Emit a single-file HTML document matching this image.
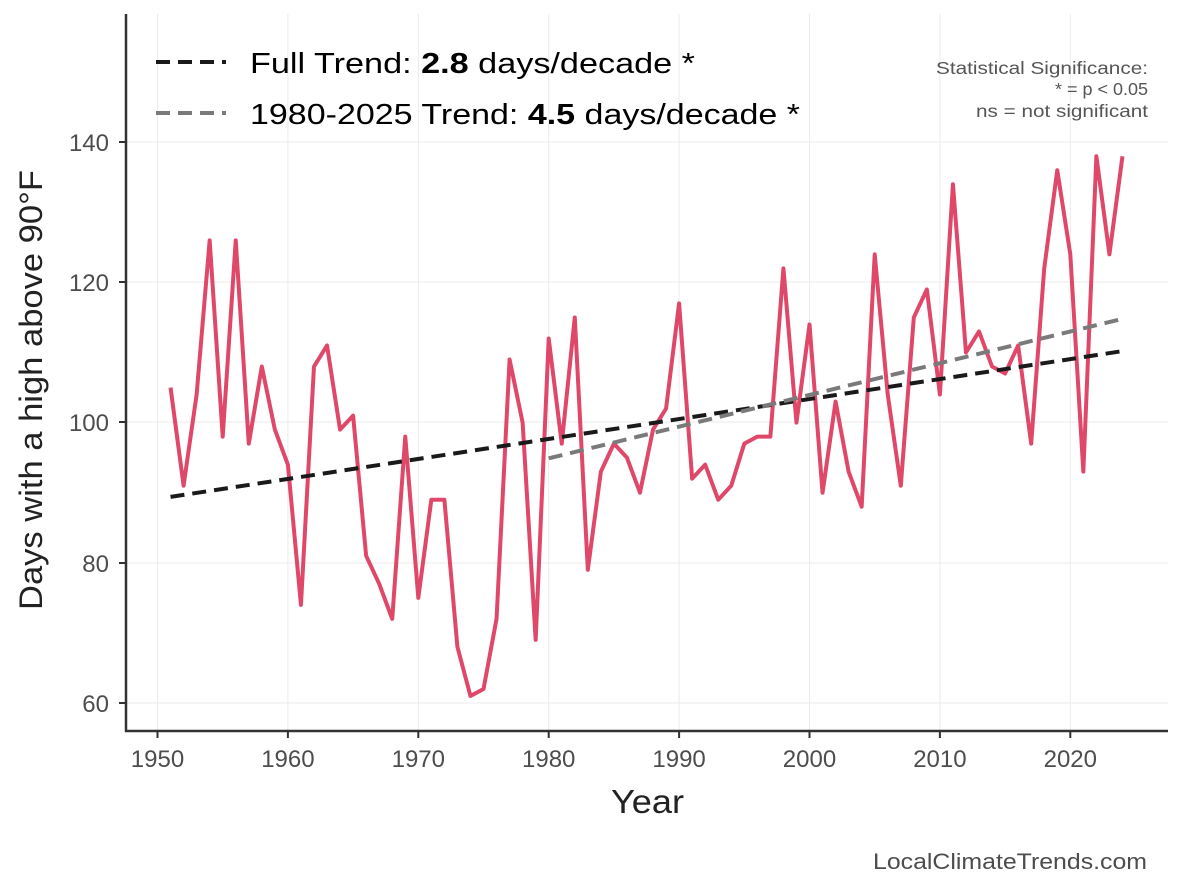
<!DOCTYPE html>
<html><head><meta charset="utf-8"><style>
html,body{margin:0;padding:0;background:#fff;}
svg{display:block;font-family:"Liberation Sans",Arial,sans-serif;}
</style></head><body>
<svg width="1184" height="889" viewBox="0 0 1184 889" xmlns="http://www.w3.org/2000/svg">
<rect width="1184" height="889" fill="#fff"/>
<g stroke="#ebebeb" stroke-width="1">
<line x1="126" x2="1168" y1="142" y2="142"/><line x1="126" x2="1168" y1="282" y2="282"/>
<line x1="126" x2="1168" y1="422" y2="422"/><line x1="126" x2="1168" y1="563" y2="563"/>
<line x1="126" x2="1168" y1="703" y2="703"/>
<line x1="157.5" x2="157.5" y1="14" y2="731"/><line x1="287.9" x2="287.9" y1="14" y2="731"/>
<line x1="418.3" x2="418.3" y1="14" y2="731"/><line x1="548.7" x2="548.7" y1="14" y2="731"/>
<line x1="679.1" x2="679.1" y1="14" y2="731"/><line x1="809.5" x2="809.5" y1="14" y2="731"/>
<line x1="939.9" x2="939.9" y1="14" y2="731"/><line x1="1070.3" x2="1070.3" y1="14" y2="731"/>
</g>
<g transform="matrix(13.04,0,0,-7.01,157.5,1123.6)">
<polyline fill="none" stroke="#e0486a" stroke-width="4" stroke-linejoin="round" vector-effect="non-scaling-stroke" points="1,105 2,91 3,104 4,126 5,98 6,126 7,97 8,108 9,99 10,94 11,74 12,108 13,111 14,99 15,101 16,81 17,77 18,72 19,98 20,75 21,89 22,89 23,68 24,61 25,62 26,72 27,109 28,100 29,69 30,112 31,97 32,115 33,79 34,93 35,97 36,95 37,90 38,99 39,102 40,117 41,92 42,94 43,89 44,91 45,97 46,98 47,98 48,122 49,100 50,114 51,90 52,103 53,93 54,88 55,124 56,104 57,91 58,115 59,119 60,104 61,134 62,110 63,113 64,108 65,107 66,111 67,97 68,122 69,136 70,124 71,93 72,138 73,124 74,138"/>
<line x1="1" y1="89.4" x2="74" y2="110.2" stroke="#1a1a1a" stroke-width="4" stroke-dasharray="14 8" vector-effect="non-scaling-stroke"/>
<line x1="30" y1="94.9" x2="74" y2="114.8" stroke="#7a7a7a" stroke-width="4" stroke-dasharray="14 8" vector-effect="non-scaling-stroke"/>
</g>
<g stroke="#333" stroke-width="2.5" fill="none">
<line x1="126" y1="14" x2="126" y2="732"/><line x1="125" y1="731" x2="1168" y2="731"/>
</g>
<g stroke="#333" stroke-width="2">
<line x1="119" x2="126" y1="142" y2="142"/><line x1="119" x2="126" y1="282" y2="282"/><line x1="119" x2="126" y1="422" y2="422"/><line x1="119" x2="126" y1="563" y2="563"/><line x1="119" x2="126" y1="703" y2="703"/>
<line x1="157.5" x2="157.5" y1="731" y2="738"/><line x1="287.9" x2="287.9" y1="731" y2="738"/><line x1="418.3" x2="418.3" y1="731" y2="738"/><line x1="548.7" x2="548.7" y1="731" y2="738"/><line x1="679.1" x2="679.1" y1="731" y2="738"/><line x1="809.5" x2="809.5" y1="731" y2="738"/><line x1="939.9" x2="939.9" y1="731" y2="738"/><line x1="1070.3" x2="1070.3" y1="731" y2="738"/>
</g>
<g fill="#4d4d4d" font-size="24" text-anchor="end">
<text x="109" y="151">140</text><text x="109" y="291">120</text><text x="109" y="431">100</text><text x="109" y="572">80</text><text x="109" y="712">60</text>
</g>
<g fill="#4d4d4d" font-size="24" text-anchor="middle">
<text x="157.5" y="767">1950</text><text x="287.9" y="767">1960</text><text x="418.3" y="767">1970</text><text x="548.7" y="767">1980</text><text x="679.1" y="767">1990</text><text x="809.5" y="767">2000</text><text x="939.9" y="767">2010</text><text x="1070.3" y="767">2020</text>
</g>
<text x="611" y="813" font-size="33" fill="#222" textLength="73" lengthAdjust="spacingAndGlyphs">Year</text>
<text transform="translate(42,610) rotate(-90)" font-size="32" fill="#222" textLength="440" lengthAdjust="spacingAndGlyphs">Days with a high above 90°F</text>
<line x1="156" x2="226" y1="62" y2="62" stroke="#1a1a1a" stroke-width="4" stroke-dasharray="14 8"/>
<line x1="156" x2="226" y1="113" y2="113" stroke="#7a7a7a" stroke-width="4" stroke-dasharray="14 8"/>
<text x="250" y="73" font-size="29" fill="#000" textLength="445" lengthAdjust="spacingAndGlyphs">Full Trend: <tspan font-weight="bold">2.8</tspan> days/decade *</text>
<text x="250" y="124" font-size="29" fill="#000" textLength="550" lengthAdjust="spacingAndGlyphs">1980-2025 Trend: <tspan font-weight="bold">4.5</tspan> days/decade *</text>
<g fill="#555" font-size="17.5">
<text x="936" y="74" textLength="212" lengthAdjust="spacingAndGlyphs">Statistical Significance:</text>
<text x="1055" y="95" textLength="93" lengthAdjust="spacingAndGlyphs">* = p &lt; 0.05</text>
<text x="976" y="117" textLength="172" lengthAdjust="spacingAndGlyphs">ns = not significant</text>
</g>
<text x="873" y="869" font-size="22" fill="#4d4d4d" textLength="274" lengthAdjust="spacingAndGlyphs">LocalClimateTrends.com</text>
</svg>
</body></html>
